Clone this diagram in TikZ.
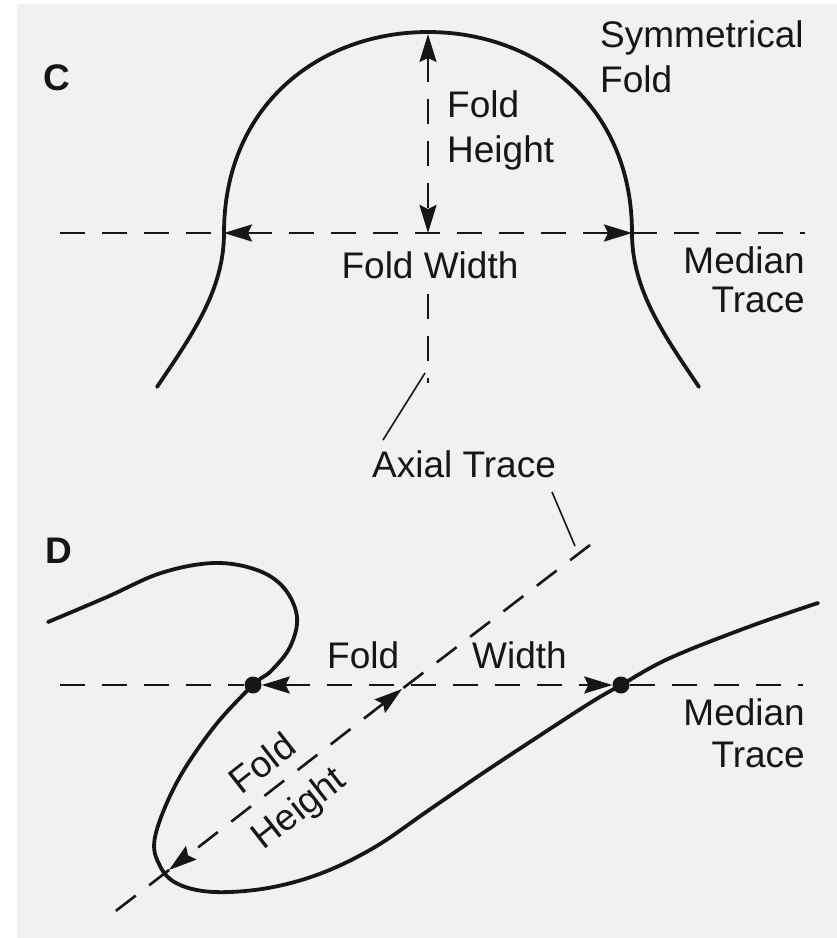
\documentclass[tikz,border=0pt]{standalone}
\usepackage{fontspec}
\setmainfont{Liberation Sans}
\usetikzlibrary{arrows.meta}
\definecolor{ink}{HTML}{161616}
\definecolor{bg}{HTML}{F1F1F1}
\begin{document}
\begin{tikzpicture}[x=1pt,y=-1pt,
  curve/.style={line width=3.8pt, line cap=round, draw=ink},
  dashln/.style={line width=2.6pt, draw=ink, dash pattern=on 25pt off 17pt},
  dimarrow/.style={dashln, {Stealth[length=28pt,width=17pt,inset=4pt]}-{Stealth[length=28pt,width=17pt,inset=4pt]}},
  leader/.style={line width=1.6pt, draw=ink},
  lbl/.style={font=\fontsize{37}{45}\selectfont, text=ink, inner sep=0pt},
  panel/.style={font=\bfseries\fontsize{37}{40}\selectfont, text=ink, inner sep=0pt},
  dot/.style={circle, fill=ink, inner sep=0pt, minimum size=17pt}]
\useasboundingbox (0,0) rectangle (837,938);
\fill[white] (0,0) rectangle (837,938);
\fill[bg] (17,4) rectangle (837,938);

% ---------------- Panel C ----------------
\node[panel, anchor=base west] (labC) at (43,90) {C};
\coordinate (cBL) at (157,387);
\coordinate (cML) at (224,233);
\coordinate (cTop) at (428,32);
\coordinate (cMR) at (632,233);
\coordinate (cBR) at (699,387);
\draw[curve] (cBL) .. controls (192,335) and (224,290) .. (cML)
  .. controls (224,105) and (320,32) .. (cTop)
  .. controls (536,32) and (632,105) .. (cMR)
  .. controls (632,290) and (664,335) .. (cBR);

\coordinate (cM0) at (60,233);
\coordinate (cM1) at (805,233);
\coordinate (cAx) at (428,233);
\coordinate (cTopIn) at (428,34);
\coordinate (cAx1) at (428,294);
\coordinate (cAx2) at (428,383);
\draw[dashln] (cM0) -- (cML);
\draw[dimarrow] (cML) -- (cMR);
\draw[dashln] (cMR) -- (cM1);
\draw[dimarrow] (cTopIn) -- (cAx);
\draw[dashln] (cAx1) -- (cAx2);

\node[lbl, anchor=base west, align=left] (symm) at (600,92) {Symmetrical\\Fold};
\node[lbl, anchor=base west, align=left] (fhC) at (447,162) {Fold\\Height};
\node[lbl, anchor=base] (fwC) at (430,278) {Fold Width};
\node[lbl, anchor=base east, align=right, font=\fontsize{37}{39}\selectfont] (mtC) at (805,312) {Median\\Trace};

% leaders to Axial Trace
\node[lbl, anchor=base] (ax) at (464,477) {Axial Trace};
\coordinate (l1a) at (425,373);
\coordinate (l1b) at (383,440);
\coordinate (l2a) at (552,492);
\coordinate (l2b) at (575,546);
\draw[leader] (l1a) -- (l1b);
\draw[leader] (l2a) -- (l2b);

% ---------------- Panel D ----------------
\node[panel, anchor=base west] (labD) at (45,563) {D};
\draw[curve] plot[smooth, tension=0.6] coordinates {
  (48,622) (107,597) (161,573) (214,563) (257,570) (284,588) (297,617)
  (290,647) (271,671) (253,685) (214,727) (177,782) (155,837) (160,866)
  (178,884) (214,892) (268,888) (322,873) (375,847) (429,810) (483,773)
  (536,738) (590,703) (621,685) (670,658) (751,626) (818,603)};

\node[dot] (dL) at (253,685) {};
\node[dot] (dR) at (621,685) {};
\coordinate (dM0) at (60,685);
\coordinate (dM1) at (803,685);
\draw[dashln] (dM0) -- (dL);
\draw[dimarrow] (dL.east) -- (dR.west);
\draw[dashln] (dR) -- (dM1);

\coordinate (dA0) at (590,545);
\coordinate (hU) at (402,689);
\coordinate (hL) at (169,870);
\coordinate (dA1) at (104,920);
\draw[dashln] (dA0) -- (hU);
\draw[dimarrow] (hU) -- (hL);
\draw[dashln] (hL) -- (dA1);

\node[lbl, anchor=base west] (dFold) at (327,668) {Fold};
\node[lbl, anchor=base west] (dWidth) at (472,668) {Width};
\node[lbl, anchor=base east, align=right, font=\fontsize{37}{42}\selectfont] (mtD) at (805,767) {Median\\Trace};
\node[lbl, rotate=38] (hFold) at (262,763) {Fold};
\node[lbl, rotate=38] (hHeight) at (300,810) {Height};
\end{tikzpicture}
\end{document}
